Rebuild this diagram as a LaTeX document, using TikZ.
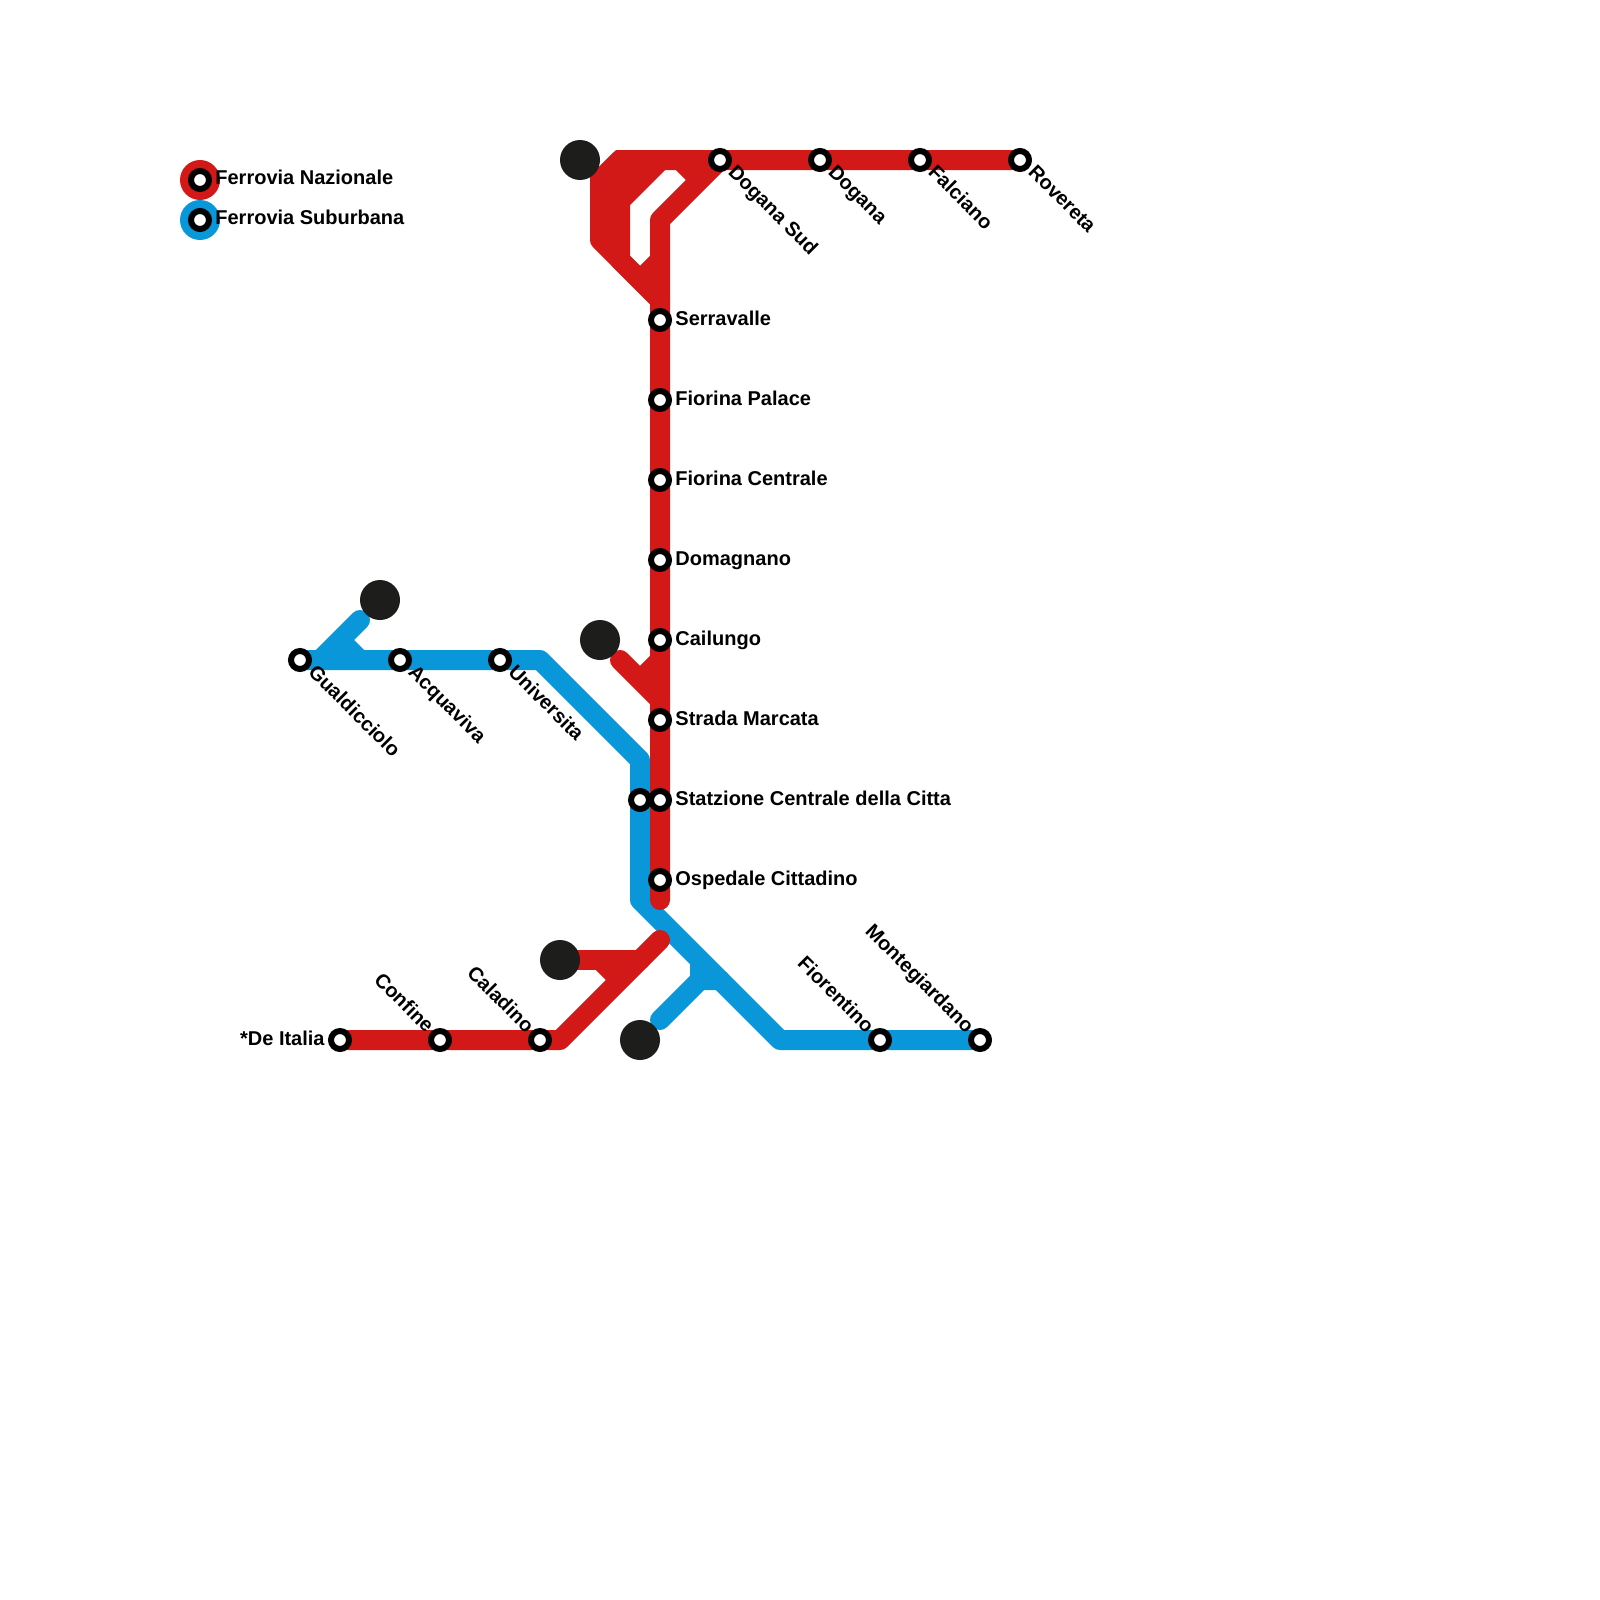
\documentclass[tikz,border=0pt]{standalone}
\usepackage{fontspec}
\setmainfont{Liberation Sans}
\definecolor{redline}{HTML}{D31818}
\definecolor{blueline}{HTML}{0A97D9}
\definecolor{dot}{HTML}{1D1D1B}
\tikzset{
  track/.style={line width=10pt,line cap=round,line join=round},
  redtrack/.style={track,draw=redline},
  bluetrack/.style={track,draw=blueline},
  station/.style={circle,draw=black,fill=white,line width=3pt,minimum size=9pt,inner sep=0pt},
  terminus/.style={circle,fill=dot,minimum size=20pt,inner sep=0pt},
  legendbg/.style={circle,minimum size=20pt,inner sep=0pt},
  lbl/.style={font=\bfseries\fontsize{10}{12}\selectfont,text=black,inner sep=0pt},
  lblE/.style={lbl,anchor=base west},
  lblSE/.style={lbl,anchor=base west,rotate=-45},
  lblNW/.style={lbl,anchor=base east,rotate=-45},
  lblW/.style={lbl,anchor=base east}
}
\begin{document}
\begin{tikzpicture}[x=0.5pt,y=-0.5pt]
\useasboundingbox (0,0) rectangle (1600,1600);
\fill[white] (0,0) rectangle (1600,1600);
% named places
\coordinate (dgs) at (720,160); \coordinate (dg) at (820,160); \coordinate (fa) at (920,160); \coordinate (ro) at (1020,160);
\coordinate (se) at (660,320); \coordinate (fp) at (660,400); \coordinate (fc) at (660,480); \coordinate (dm) at (660,560);
\coordinate (ca) at (660,640); \coordinate (sm) at (660,720); \coordinate (sc) at (660,800); \coordinate (os) at (660,880);
\coordinate (scb) at (640,800);
\coordinate (gu) at (300,660); \coordinate (ac) at (400,660); \coordinate (un) at (500,660);
\coordinate (fi) at (880,1040); \coordinate (mo) at (980,1040);
\coordinate (di) at (340,1040); \coordinate (cf) at (440,1040); \coordinate (cl) at (540,1040);
% blue tracks
\draw[bluetrack] (gu) -- (un) -- (540,660) -- (640,760) -- (scb) -- (640,900) -- (780,1040) -- (fi) -- (mo);
\draw[bluetrack] (360,620) -- (320,660);
\draw[bluetrack,line cap=butt] (340,640) -- (360,660);
\draw[bluetrack] (660,1020) -- (700,980) -- (720,980);
\draw[bluetrack,line cap=butt] (700,960) -- (700,980);
% red tracks
\fill[redline] (616,150) -- (590,176) -- (590,220) -- (630,205) -- (665,170) -- (680,150) -- cycle;
\draw[redtrack] (ro) -- (fa) -- (dg) -- (dgs) -- (620,160) -- (600,180) -- (600,240) -- (660,300) -- (se) -- (fp) -- (fc) -- (dm) -- (ca) -- (sm) -- (sc) -- (os) -- (660,900);
\draw[redtrack] (660,160) -- (620,200) -- (620,260) -- (660,300);
\draw[redtrack,line cap=butt] (680,160) -- (700,180);
\draw[redtrack] (dgs) -- (660,220) -- (660,300);
\draw[redtrack,line cap=butt] (660,260) -- (640,280);
\draw[redtrack] (620,660) -- (660,700);
\draw[redtrack,line cap=butt] (660,660) -- (640,680);
\draw[redtrack] (di) -- (cf) -- (cl) -- (560,1040) -- (660,940);
\draw[redtrack] (560,960) -- (640,960);
\draw[redtrack,line cap=butt] (600,960) -- (620,980);
% termini
\node[terminus] (t1) at (580,160) {};
\node[terminus] (t2) at (380,600) {};
\node[terminus] (t3) at (600,640) {};
\node[terminus] (t4) at (560,960) {};
\node[terminus] (t5) at (640,1040) {};
% legend
\node[legendbg,fill=redline] (lr) at (200,180) {};
\node[legendbg,fill=blueline] (lb) at (200,220) {};
\node[station] (slr) at (lr) {};
\node[station] (slb) at (lb) {};
\node[lblE] (tlr) at (215,184.5) {Ferrovia Nazionale};
\node[lblE] (tlb) at (215,224.5) {Ferrovia Suburbana};
% stations
\foreach \s in {dgs,dg,fa,ro,se,fp,fc,dm,ca,sm,sc,os,scb,gu,ac,un,fi,mo,di,cf,cl}
  \node[station] (st\s) at (\s) {};
% labels
\node[lblSE] (ldgs) at (727,173) {Dogana Sud};
\node[lblSE] (ldg) at (827,173) {Dogana};
\node[lblSE] (lfa) at (927,173) {Falciano};
\node[lblSE] (lro) at (1027,173) {Rovereta};
\node[lblE] (lse) at (675,325) {Serravalle};
\node[lblE] (lfp) at (675,405) {Fiorina Palace};
\node[lblE] (lfc) at (675,485) {Fiorina Centrale};
\node[lblE] (ldm) at (675,565) {Domagnano};
\node[lblE] (lca) at (675,645) {Cailungo};
\node[lblE] (lsm) at (675,725) {Strada Marcata};
\node[lblE] (lsc) at (675,805) {Statzione Centrale della Citta};
\node[lblE] (los) at (675,885) {Ospedale Cittadino};
\node[lblSE] (lgu) at (307,673) {Gualdicciolo};
\node[lblSE] (lac) at (407,673) {Acquaviva};
\node[lblSE] (lun) at (507,673) {Universita};
\node[lblNW] (lfi) at (866,1034) {Fiorentino};
\node[lblNW] (lmo) at (966,1034) {Montegiardano};
\node[lblNW] (lcf) at (426,1034) {Confine};
\node[lblNW] (lcl) at (526,1034) {Caladino};
\node[lblW] (ldi) at (325,1045) {*De Italia};
\end{tikzpicture}
\end{document}
